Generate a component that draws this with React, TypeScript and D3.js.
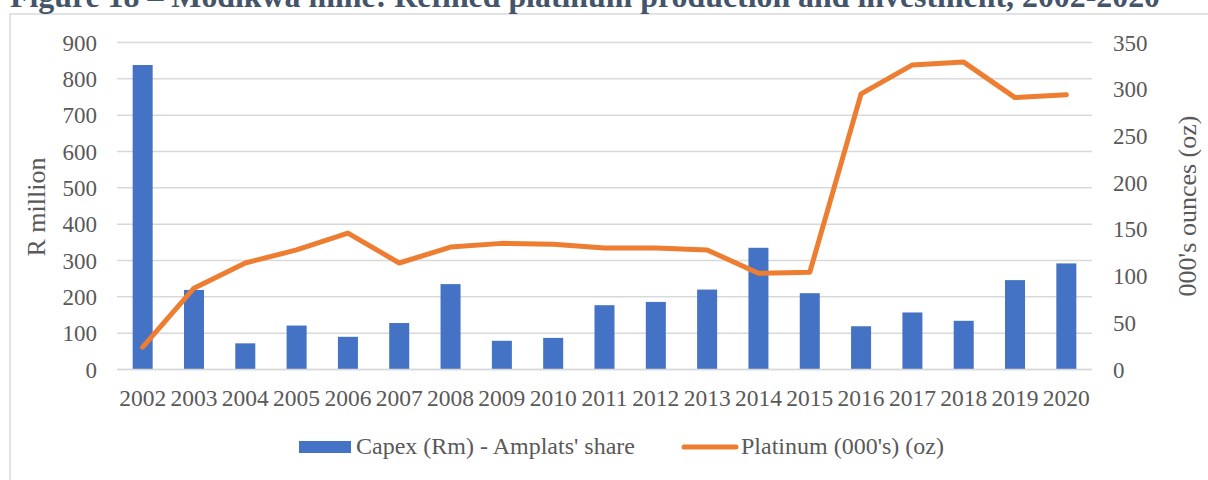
import React, { useEffect, useRef } from 'react';
import * as d3 from 'd3';

const years = ['2002', '2003', '2004', '2005', '2006', '2007', '2008', '2009', '2010', '2011',
  '2012', '2013', '2014', '2015', '2016', '2017', '2018', '2019', '2020'];
const capex = [838, 219, 72, 121, 90, 128, 235, 79, 87, 177, 186, 220, 335, 210, 119, 157, 134, 246, 292];
const platinum = [24, 87, 114, 128, 146, 114, 131, 135, 134, 130, 130, 128, 103, 104, 295, 326, 329, 291, 294];
const leftTicks = [0, 100, 200, 300, 400, 500, 600, 700, 800, 900];
const rightTicks = [0, 50, 100, 150, 200, 250, 300, 350];

const title = 'Figure 18 \u2013 Modikwa mine: Refined platinum production and investment, 2002-2020';

const W = 1208;
const H = 480;
const font = '"Liberation Serif", "Times New Roman", serif';

export default function App() {
  const ref = useRef<SVGSVGElement>(null);

  useEffect(() => {
    const svg = d3.select(ref.current);
    svg.selectAll('*').remove();

    const left = 117, right = 1092, top = 42.5, bottom = 369.5;

    // chart frame
    svg.append('rect')
      .attr('x', 10).attr('y', 14)
      .attr('width', 1220).attr('height', 520)
      .attr('fill', '#fff')
      .attr('stroke', '#D9D9D9')
      .attr('stroke-width', 1.5);

    // title sits partly above the page, as in the source
    svg.append('text')
      .attr('x', 10).attr('y', 7)
      .attr('font-family', font)
      .attr('font-weight', 'bold')
      .attr('font-size', 32)
      .attr('fill', '#44546A')
      .attr('textLength', 1150)
      .attr('lengthAdjust', 'spacingAndGlyphs')
      .text(title);

    const x = d3.scaleBand().domain(years).range([left, right]).paddingInner(0.61).paddingOuter(0.305);
    const xc = (d: string) => (x(d) as number) + x.bandwidth() / 2;
    const yL = d3.scaleLinear().domain([0, 900]).range([bottom, top]);
    const yR = d3.scaleLinear().domain([0, 350]).range([bottom, top]);

    // gridlines
    svg.append('g')
      .selectAll('line')
      .data(leftTicks)
      .enter()
      .append('line')
      .attr('x1', left).attr('x2', right)
      .attr('y1', d => yL(d)).attr('y2', d => yL(d))
      .attr('stroke', '#D9D9D9')
      .attr('stroke-width', 1.5);

    // left axis labels
    svg.append('g')
      .selectAll('text')
      .data(leftTicks)
      .enter()
      .append('text')
      .attr('x', 97)
      .attr('y', d => yL(d))
      .attr('dy', '0.35em')
      .attr('text-anchor', 'end')
      .attr('font-family', font)
      .attr('font-size', 23)
      .attr('fill', '#595959')
      .text(d => d);

    // right axis labels
    svg.append('g')
      .selectAll('text')
      .data(rightTicks)
      .enter()
      .append('text')
      .attr('x', 1113)
      .attr('y', d => yR(d))
      .attr('dy', '0.35em')
      .attr('text-anchor', 'start')
      .attr('font-family', font)
      .attr('font-size', 23)
      .attr('fill', '#595959')
      .text(d => d);

    // x labels
    svg.append('g')
      .selectAll('text')
      .data(years)
      .enter()
      .append('text')
      .attr('x', d => xc(d))
      .attr('y', 406)
      .attr('text-anchor', 'middle')
      .attr('font-family', font)
      .attr('font-size', 23.5)
      .attr('fill', '#595959')
      .text(d => d);

    // axis titles
    svg.append('text')
      .attr('transform', 'translate(45,207) rotate(-90)')
      .attr('text-anchor', 'middle')
      .attr('font-family', font)
      .attr('font-size', 26)
      .attr('fill', '#595959')
      .text('R million');

    svg.append('text')
      .attr('transform', 'translate(1196,206) rotate(-90)')
      .attr('text-anchor', 'middle')
      .attr('font-family', font)
      .attr('font-size', 26)
      .attr('fill', '#595959')
      .text("000's ounces (oz)");

    // bars
    svg.append('g')
      .selectAll('rect')
      .data(capex)
      .enter()
      .append('rect')
      .attr('x', (d, i) => x(years[i]) as number)
      .attr('width', x.bandwidth())
      .attr('y', d => yL(d))
      .attr('height', d => bottom - yL(d))
      .attr('fill', '#4472C4');

    // bottom axis line
    svg.append('line')
      .attr('x1', left).attr('x2', right)
      .attr('y1', bottom).attr('y2', bottom)
      .attr('stroke', '#D9D9D9')
      .attr('stroke-width', 1.5);

    // platinum line
    const line = d3.line<number>()
      .x((d, i) => xc(years[i]))
      .y(d => yR(d));

    svg.append('path')
      .datum(platinum)
      .attr('d', line)
      .attr('fill', 'none')
      .attr('stroke', '#ED7D31')
      .attr('stroke-width', 5)
      .attr('stroke-linecap', 'round')
      .attr('stroke-linejoin', 'round');

    // legend
    const lg = svg.append('g');
    lg.append('rect')
      .attr('x', 299).attr('y', 441)
      .attr('width', 52).attr('height', 12)
      .attr('fill', '#4472C4');
    lg.append('text')
      .attr('x', 356).attr('y', 454)
      .attr('font-family', font)
      .attr('font-size', 24)
      .attr('fill', '#595959')
      .text("Capex (Rm) - Amplats' share");
    lg.append('line')
      .attr('x1', 684).attr('x2', 736)
      .attr('y1', 447).attr('y2', 447)
      .attr('stroke', '#ED7D31')
      .attr('stroke-width', 5)
      .attr('stroke-linecap', 'round');
    lg.append('text')
      .attr('x', 741).attr('y', 454)
      .attr('font-family', font)
      .attr('font-size', 24)
      .attr('fill', '#595959')
      .text("Platinum (000's) (oz)");
  }, []);

  return (
    <div style={{ position: 'absolute', left: 0, top: 0 }}>
      <svg ref={ref} width={W} height={H} style={{ display: 'block', background: '#fff' }} />
    </div>
  );
}
